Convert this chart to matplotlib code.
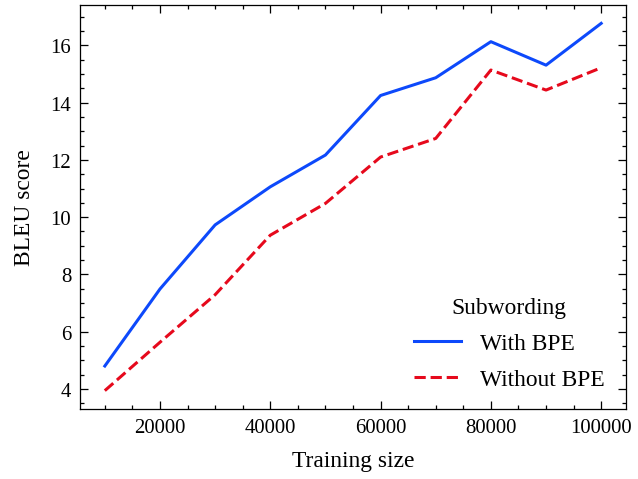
import matplotlib
matplotlib.use('Agg')
import matplotlib.pyplot as plt
from matplotlib.ticker import AutoMinorLocator

# Data
training_size = [10000, 20000, 30000, 40000, 50000, 60000, 70000, 80000, 90000, 100000]
bleu_with_bpe = [4.80, 7.49, 9.73, 11.06, 12.17, 14.25, 14.87, 16.13, 15.31, 16.77]
bleu_without_bpe = [3.94, 5.63, 7.29, 9.37, 10.48, 12.10, 12.75, 15.14, 14.44, 15.22]

# science + high-vis look
plt.rcParams.update({
    'font.family': 'serif',
    'font.serif': ['Liberation Serif', 'DejaVu Serif'],
    'font.size': 9.3,
    'xtick.labelsize': 8.2,
    'ytick.labelsize': 8.2,
    'mathtext.fontset': 'stix',
    'xtick.direction': 'in',
    'ytick.direction': 'in',
    'xtick.top': True,
    'ytick.right': True,
    'xtick.major.size': 3,
    'ytick.major.size': 3,
    'xtick.minor.size': 1.5,
    'ytick.minor.size': 1.5,
    'xtick.major.width': 0.5,
    'ytick.major.width': 0.5,
    'xtick.minor.width': 0.5,
    'ytick.minor.width': 0.5,
    'axes.linewidth': 0.5,
    'lines.linewidth': 1.2,
    'legend.frameon': False,
})

dpi = 182.3
fig = plt.figure(figsize=(638 / dpi, 480 / dpi), dpi=dpi)
ax = fig.add_axes([80 / 638, 1 - 410 / 480, (626 - 80) / 638, (410 - 6) / 480])

ax.plot(training_size, bleu_with_bpe, color='#0d49fb', ls='-', label='With BPE')
ax.plot(training_size, bleu_without_bpe, color='#e6091c', ls='--', label='Without BPE')

ax.xaxis.set_minor_locator(AutoMinorLocator())
ax.yaxis.set_minor_locator(AutoMinorLocator())
ax.set_xticks([20000, 40000, 60000, 80000, 100000])
ax.set_yticks([4, 6, 8, 10, 12, 14, 16])

ax.set_xlabel('Training size', labelpad=5)
ax.set_ylabel('BLEU score', labelpad=6)
leg = ax.legend(title='Subwording', loc='lower right', bbox_to_anchor=(1.004, -0.012),
                borderaxespad=0.6, labelspacing=0.62)
leg._legend_box.sep = 6

fig.savefig('out.png', dpi=dpi)
